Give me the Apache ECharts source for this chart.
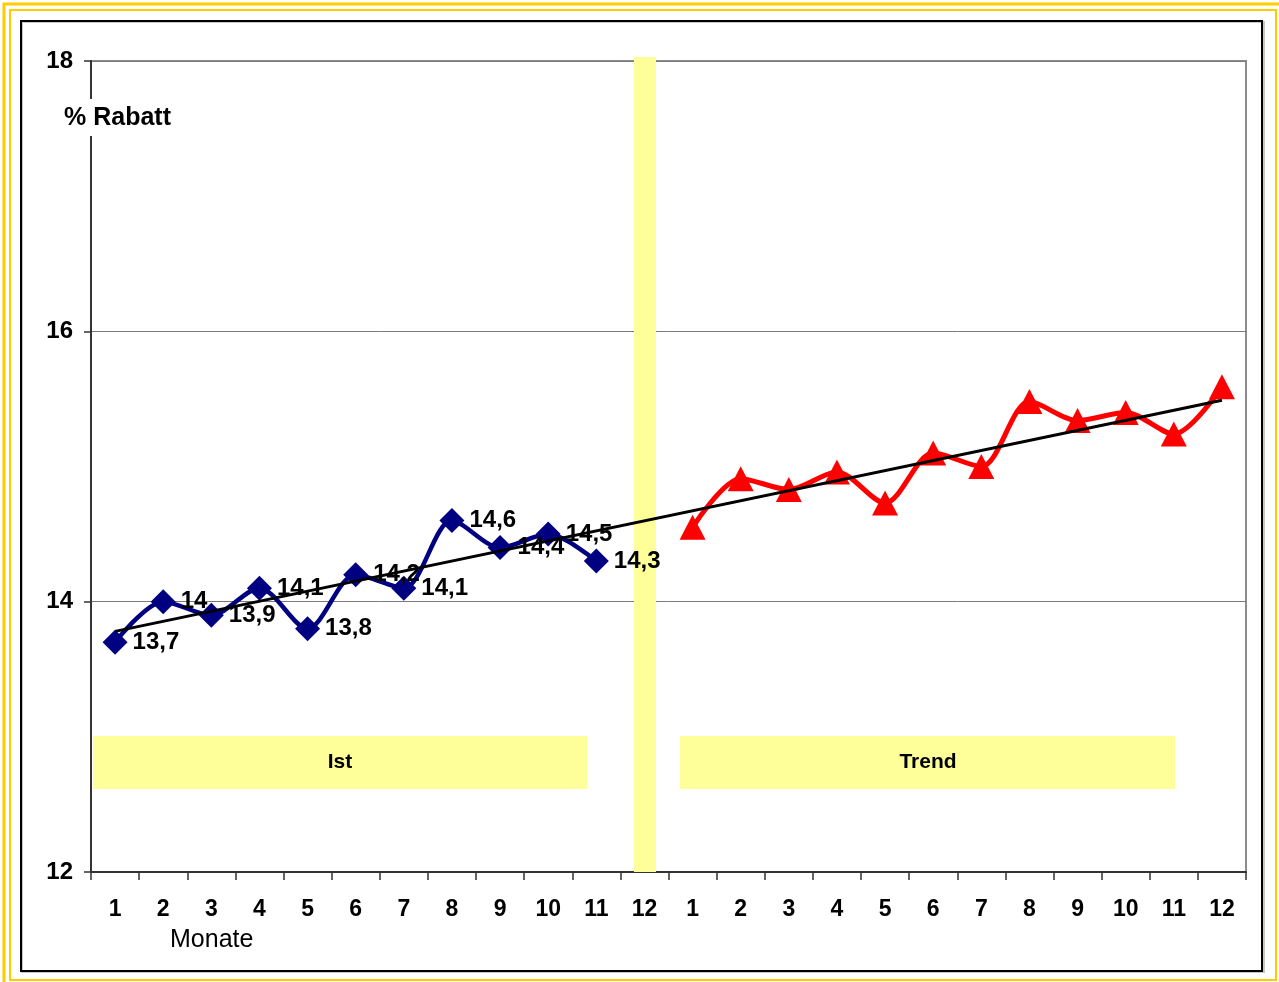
<!DOCTYPE html>
<html>
<head>
<meta charset="utf-8">
<script src="https://cdn.jsdelivr.net/npm/echarts@6/dist/echarts.min.js"></script>
<style>
  html, body { margin: 0; padding: 0; background: #ffffff; }
  #chart { width: 1279px; height: 982px; }
</style>
</head>
<body>
<div id="chart"></div>
<script>
// Month labels for the actual period and the trend period
const istMonths = ['1', '2', '3', '4', '5', '6', '7', '8', '9', '10', '11', '12'];
const trendMonths = ['1', '2', '3', '4', '5', '6', '7', '8', '9', '10', '11', '12'];

// Discount in percent, actual months 1..11
const istValues = [13.7, 14, 13.9, 14.1, 13.8, 14.2, 14.1, 14.6, 14.4, 14.5, 14.3];
// Discount in percent, trend months 1..12
const trendValues = [14.55, 14.91, 14.83, 14.96, 14.73, 15.10, 15.00, 15.48, 15.34, 15.40, 15.24, 15.59];
// Linear trend line: value at the first and at the last month
const trendLineEnds = [13.78, 15.49];

// Y axis range
const yMin = 12, yMax = 18, yStep = 2;

const monthLabels = istMonths.concat(trendMonths);
const categories = monthLabels.map((_, i) => String(i));
const istData = istValues.map((v, i) => [i, v]);
const trendData = trendValues.map((v, i) => [istMonths.length + i, v]);
const lineData = [[0, trendLineEnds[0]], [categories.length - 1, trendLineEnds[1]]];

const FONT = '"Liberation Sans", Arial, sans-serif';
const chart = echarts.init(document.getElementById('chart'), null, { renderer: 'canvas' });

chart.setOption({
  animation: false,
  backgroundColor: '#ffffff',
  textStyle: { fontFamily: FONT },
  grid: {
    left: 91, right: 33, top: 61, bottom: 110,
    show: true, borderColor: '#8c8c8c', borderWidth: 2, backgroundColor: 'transparent'
  },
  xAxis: {
    type: 'category',
    data: categories,
    boundaryGap: true,
    axisLine: { lineStyle: { color: '#333333', width: 2 } },
    axisTick: { show: true, interval: 0, length: 8, alignWithLabel: false, lineStyle: { color: '#333333', width: 1.5 } },
    axisLabel: {
      interval: 0, margin: 26,
      formatter: (v, i) => monthLabels[i],
      color: '#000', fontSize: 23, fontWeight: 'bold', fontFamily: FONT
    },
    splitLine: { show: false }
  },
  yAxis: {
    type: 'value',
    min: yMin, max: yMax, interval: yStep,
    axisLine: { show: true, lineStyle: { color: '#333333', width: 2 } },
    axisTick: { show: true, length: 7, lineStyle: { color: '#333333', width: 1.5 } },
    axisLabel: { margin: 18, color: '#000', fontSize: 24, fontWeight: 'bold', fontFamily: FONT },
    splitLine: { show: true, lineStyle: { color: '#7a7a7a', width: 1 } }
  },
  series: [
    {
      name: 'Ist',
      type: 'line',
      data: istData,
      smooth: 0.3,
      z: 3,
      lineStyle: { color: '#000080', width: 4.5 },
      itemStyle: { color: '#000080' },
      symbol: 'diamond',
      symbolSize: [25, 25],
      label: {
        show: true, position: 'right', distance: 5,
        formatter: p => String(p.value[1]).replace('.', ','),
        color: '#000', fontSize: 24, fontWeight: 'bold', fontFamily: FONT
      }
    },
    {
      name: 'Trend',
      type: 'line',
      data: trendData,
      smooth: 0.3,
      z: 3,
      lineStyle: { color: '#ff0000', width: 5 },
      itemStyle: { color: '#ff0000' },
      symbol: 'triangle',
      symbolSize: [26, 25]
    },
    {
      name: 'Linear',
      type: 'line',
      data: lineData,
      z: 4,
      symbol: 'none',
      lineStyle: { color: '#000000', width: 3 }
    }
  ],
  graphic: [
    // outer double gold frame
    { type: 'rect', z: 50, shape: { x: 4, y: 4, width: 1290, height: 990 }, style: { fill: 'none', stroke: '#ffcc00', lineWidth: 3 } },
    { type: 'rect', z: 50, shape: { x: 10, y: 10, width: 1266, height: 970 }, style: { fill: 'none', stroke: '#ffcc00', lineWidth: 2 } },
    // chart frame
    { type: 'rect', z: 50, shape: { x: 22, y: 22, width: 1242, height: 950 }, style: { fill: 'none', stroke: '#c8c8c8', lineWidth: 2 } },
    { type: 'rect', z: 50, shape: { x: 21, y: 21, width: 1241, height: 950 }, style: { fill: 'none', stroke: '#000000', lineWidth: 2 } },
    // separator between actual and trend periods
    { type: 'rect', z: 1, shape: { x: 634, y: 57, width: 22, height: 815 }, style: { fill: '#ffff99' } },
    // period captions
    { type: 'rect', z: 1, shape: { x: 93, y: 736, width: 494, height: 53 }, style: { fill: '#ffff99' } },
    { type: 'text', z: 10, x: 340, y: 762, style: { text: 'Ist', font: 'bold 21px ' + FONT, fill: '#000', align: 'center', verticalAlign: 'middle' } },
    { type: 'rect', z: 1, shape: { x: 680, y: 736, width: 495, height: 53 }, style: { fill: '#ffff99' } },
    { type: 'text', z: 10, x: 928, y: 762, style: { text: 'Trend', font: 'bold 21px ' + FONT, fill: '#000', align: 'center', verticalAlign: 'middle' } },
    // axis titles
    { type: 'rect', z: 10, shape: { x: 62, y: 99, width: 114, height: 37 }, style: { fill: '#ffffff' } },
    { type: 'text', z: 11, x: 64, y: 118, style: { text: '% Rabatt', font: 'bold 25px ' + FONT, fill: '#000', align: 'left', verticalAlign: 'middle' } },
    { type: 'text', z: 11, x: 170, y: 940, style: { text: 'Monate', font: '25px ' + FONT, fill: '#000', align: 'left', verticalAlign: 'middle' } }
  ]
});
</script>
</body>
</html>
